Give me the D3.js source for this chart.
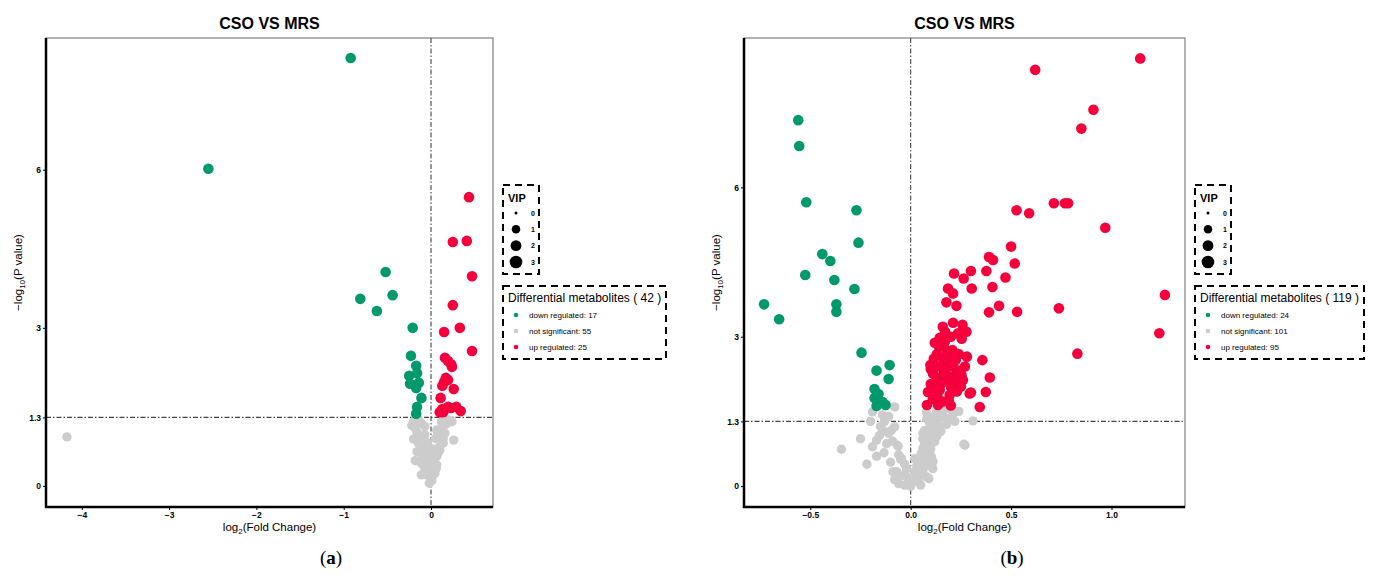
<!DOCTYPE html>
<meta charset="utf-8">
<script src="https://d3js.org/d3.v7.min.js"></script>

<style type="text/css">
body { margin: 0; background: #fff; }
svg { display: block; font-family: "Liberation Sans", Arial, sans-serif; }

.axis path { display: none; }
.axis line { stroke: #000; stroke-width: 1px; }
.axis text { font-size: 8.5px; font-weight: bold; fill: #000; }

.thresh { stroke: #444; stroke-width: 1.1px; stroke-dasharray: 5 2 1.5 2; fill: none; }
.legendBox { fill: none; stroke: #000; stroke-width: 2px; stroke-dasharray: 7 5; }
</style>

<body>
</body>

<script>

// ---- data, [log2 FC, -log10 p] ----

// panel (a)
var leftDown = [
  [-0.92, 8.12], [-2.55, 6.02], [-0.52, 4.06], [-0.81, 3.55], [-0.44, 3.62],
  [-0.62, 3.32], [-0.21, 3.00], [-0.23, 2.47], [-0.17, 2.28], [-0.16, 2.14],
  [-0.25, 2.09], [-0.14, 1.96], [-0.24, 1.94], [-0.17, 1.86], [-0.11, 1.67],
  [-0.16, 1.50], [-0.17, 1.37]
];
var leftUp = [
  [0.435, 5.48], [0.25, 4.63], [0.41, 4.65], [0.47, 3.98], [0.25, 3.43],
  [0.15, 2.92], [0.33, 3.00], [0.47, 2.56], [0.16, 2.43], [0.195, 2.37],
  [0.23, 2.31], [0.24, 2.26], [0.195, 2.01], [0.15, 1.97], [0.13, 1.90],
  [0.26, 1.84], [0.11, 1.67], [0.13, 1.46], [0.195, 1.50], [0.29, 1.50],
  [0.34, 1.42], [0.14, 1.40], [0.10, 1.40], [0.23, 1.48], [0.17, 2.05]
];
var leftNs = [
  [-4.17, 0.93],
  [-0.20, 1.22], [-0.11, 1.19], [-0.07, 1.13], [-0.18, 1.09], [0.12, 1.22],
  [0.16, 1.16], [0.24, 1.22], [0.065, 1.06], [-0.07, 0.97], [-0.20, 0.89],
  [0.10, 0.97], [0.14, 0.81], [0.26, 0.87], [-0.145, 0.81], [-0.09, 0.75],
  [-0.16, 0.65], [-0.05, 0.62], [-0.18, 0.48], [-0.11, 0.43], [-0.01, 0.40],
  [-0.07, 0.30], [0.065, 0.56], [0.10, 0.68], [0.03, 0.30], [-0.05, 0.21],
  [0.045, 0.24], [-0.11, 0.21], [0.01, 0.10], [0.065, 0.40], [0.05, 0.90],
  [0.08, 1.00], [0.02, 0.70], [-0.03, 0.50], [0.00, 0.15], [-0.02, 0.05],
  [0.12, 1.10], [0.20, 1.25], [-0.22, 1.15], [-0.14, 1.25], [0.04, 0.45],
  [0.08, 0.62], [-0.10, 0.55], [0.16, 1.00], [-0.04, 0.82], [0.06, 0.33],
  [-0.08, 0.38], [0.02, 0.20], [0.18, 1.18], [-0.16, 1.02], [0.10, 0.75],
  [-0.06, 0.66], [0.03, 0.58], [-0.12, 0.92], [0.14, 0.90]
];

// panel (b)
var rightDown = [
  [-0.56, 7.35], [-0.555, 6.83], [-0.52, 5.70], [-0.27, 5.54], [-0.26, 4.89],
  [-0.44, 4.66], [-0.40, 4.52], [-0.525, 4.24], [-0.38, 4.14], [-0.28, 3.96],
  [-0.73, 3.65], [-0.37, 3.65], [-0.37, 3.50], [-0.655, 3.35], [-0.245, 2.68],
  [-0.105, 2.43], [-0.17, 2.32], [-0.11, 2.15], [-0.18, 1.95], [-0.18, 1.77],
  [-0.14, 1.69], [-0.17, 1.61], [-0.125, 1.63], [-0.16, 1.85]
];
var rightUp = [
  [1.143, 8.59], [0.62, 8.36], [0.91, 7.56], [0.85, 7.18], [0.527, 5.54],
  [0.59, 5.48], [0.713, 5.68], [0.768, 5.68], [0.784, 5.68], [0.969, 5.19],
  [0.50, 4.81], [0.39, 4.60], [0.41, 4.54], [0.518, 4.47], [0.377, 4.32],
  [0.30, 4.32], [0.216, 4.27], [0.264, 4.17], [0.472, 4.19], [0.304, 3.97],
  [0.407, 4.00], [0.186, 3.97], [0.211, 3.87], [0.178, 3.69], [0.228, 3.62],
  [0.44, 3.62], [0.39, 3.49], [0.53, 3.50], [0.738, 3.57], [1.266, 3.84],
  [1.238, 3.07], [0.83, 2.66], [0.211, 3.28],
  [0.258, 3.24], [0.171, 3.10], [0.278, 3.10], [0.236, 3.07], [0.145, 2.98],
  [0.254, 2.96], [0.14, 2.81], [0.178, 2.73], [0.208, 2.73], [0.115, 2.56],
  [0.161, 2.58], [0.224, 2.53], [0.357, 2.53], [0.098, 2.43], [0.145, 2.40],
  [0.191, 2.40], [0.228, 2.33], [0.111, 2.26], [0.161, 2.23], [0.253, 2.23],
  [0.244, 2.26], [0.394, 2.18], [0.128, 2.13], [0.186, 2.13], [0.236, 2.09],
  [0.26, 2.13], [0.12, 1.96], [0.086, 1.89], [0.145, 1.93], [0.194, 1.83],
  [0.228, 1.99], [0.294, 1.86], [0.30, 1.88], [0.374, 1.89], [0.133, 1.79],
  [0.136, 1.63], [0.081, 1.63], [0.344, 1.59], [0.17, 2.90],
  [0.20, 3.00], [0.19, 2.60], [0.13, 2.65], [0.24, 2.65], [0.21, 2.48],
  [0.10, 2.35], [0.17, 2.30], [0.21, 2.20], [0.15, 2.05], [0.20, 2.00],
  [0.10, 2.05], [0.25, 2.00], [0.16, 1.70], [0.11, 1.75], [0.19, 1.72],
  [0.23, 1.90], [0.27, 2.40], [0.12, 2.88], [0.16, 3.20], [0.20, 1.62],
  [0.28, 2.60], [0.165, 2.50]
];
var rightNs = [
  [-0.08, 1.59], [-0.19, 1.49], [-0.14, 1.43], [-0.11, 1.40], [0.078, 1.49],
  [0.186, 1.56], [0.211, 1.45], [0.161, 1.39], [0.111, 1.39], [0.095, 1.26],
  [0.178, 1.24], [0.31, 1.31], [-0.08, 1.19], [-0.155, 1.02], [-0.11, 1.06],
  [-0.17, 0.92], [-0.063, 0.80], [-0.19, 0.79], [-0.133, 0.67], [-0.345, 0.74],
  [-0.218, 0.44], [-0.05, 0.54], [-0.03, 0.44], [-0.07, 0.29], [-0.08, 0.13],
  [-0.04, 0.22], [-0.005, 0.07], [0.036, 0.19], [0.061, 0.32], [0.086, 0.46],
  [0.053, 0.66], [0.095, 0.69], [0.07, 0.86], [0.111, 1.06], [0.061, 1.06],
  [0.12, 0.89], [0.27, 0.82], [0.111, 0.49], [0.012, 0.12], [0.078, 0.19],
  [0.045, 0.35], [0.07, 0.56], [-0.138, 1.12], [-0.096, 1.12], [-0.066, 0.82],
  [-0.046, 0.56], [-0.088, 0.29], [-0.063, 0.19], [-0.021, 0.19], [0.045, 0.49],
  [0.128, 1.49], [0.07, 1.12], [0.095, 0.92], [0.061, 0.76], [0.053, 0.32],
  [0.028, 0.19], [0.103, 0.59], [0.086, 0.42], [0.265, 0.84], [0.08, 1.35],
  [0.10, 1.20], [0.13, 1.30], [0.15, 1.45], [0.20, 1.38], [0.24, 1.50],
  [0.22, 1.30], [0.09, 1.02], [0.13, 1.00], [0.08, 0.80], [0.10, 0.75],
  [0.06, 0.95], [0.085, 0.62], [0.065, 0.50], [0.11, 0.35], [0.04, 0.08],
  [0.02, 0.28], [0.06, 0.24], [0.09, 0.15], [0.03, 0.40], [0.05, 0.02],
  [0.10, 0.54], [0.07, 0.70], [0.12, 1.15], [0.14, 1.20], [0.16, 1.50],
  [-0.02, 0.35], [-0.06, 0.63], [-0.09, 0.90], [-0.12, 0.85], [-0.15, 1.20],
  [-0.20, 1.30], [-0.03, 0.02], [-0.06, 0.05], [-0.10, 0.48], [-0.17, 0.60],
  [-0.25, 0.95], [-0.13, 1.30], [0.00, 0.00], [0.02, 0.55], [-0.01, 0.12],
  [0.15, 1.10]
];

// ticks and labels
var yTicks = [0, 1.3, 3, 6];
var leftXTicks = [-4, -3, -2, -1, 0];
var rightXTicks = [-0.5, 0, 0.5, 1.0];
var vipLevels = [0, 1, 2, 3];
var groupNames = ["down regulated", "not significant", "up regulated"];
var leftCounts = [17, 55, 25];
var rightCounts = [24, 101, 95];
var colors = ["#00996B", "#CCCCCC", "#F5003C"];

var fullWidth = 1374, fullHeight = 576;

var svg = d3.select("body").append("svg")
  .attr("width", fullWidth)
  .attr("height", fullHeight);

var panels = [
  { down: leftDown, ns: leftNs, up: leftUp, counts: leftCounts, total: 42,
    xDomain: [-4.41, 0.71], yDomain: [-0.4, 8.5], xTicks: leftXTicks,
    xFormat: d3.format("d"),
    left: 46, right: 493, legendX: 503, legendW: 163, caption: "a", captionX: 331 },
  { down: rightDown, ns: rightNs, up: rightUp, counts: rightCounts, total: 119,
    xDomain: [-0.83, 1.366], yDomain: [-0.42, 9.0], xTicks: rightXTicks,
    xFormat: d3.format(".1f"),
    left: 744, right: 1185, legendX: 1195, legendW: 169, caption: "b", captionX: 1012 }
];

// plot box top / bottom (named so they don't clash with window.top)
var plotTop = 38, plotBottom = 507;

var vipScale = d3.scaleSqrt().domain([0, 3]).range([1.5, 6.3]);

panels.forEach(function(p) {
  var g = svg.append("g");

  var x = d3.scaleLinear().domain(p.xDomain).range([p.left, p.right]);
  var y = d3.scaleLinear().domain(p.yDomain).range([plotBottom, plotTop]);

  // thin frame on top / right
  g.append("rect")
    .attr("x", p.left).attr("y", plotTop)
    .attr("width", p.right - p.left).attr("height", plotBottom - plotTop)
    .attr("fill", "none").attr("stroke", "#666").attr("stroke-width", 1);

  // threshold lines
  g.append("line").attr("class", "thresh")
    .attr("x1", p.left).attr("x2", p.right)
    .attr("y1", y(1.3)).attr("y2", y(1.3));
  g.append("line").attr("class", "thresh")
    .attr("x1", x(0)).attr("x2", x(0))
    .attr("y1", plotTop).attr("y2", plotBottom);

  // points: grey first, then down, then up
  var layers = [
    { data: p.ns, color: colors[1], r: 4.7 },
    { data: p.down, color: colors[0], r: 5.3 },
    { data: p.up, color: colors[2], r: 5.3 }
  ];
  layers.forEach(function(l) {
    g.append("g").selectAll("circle")
      .data(l.data).enter().append("circle")
      .attr("cx", function(d) { return x(d[0]); })
      .attr("cy", function(d) { return y(d[1]); })
      .attr("r", l.r)
      .attr("fill", l.color);
  });

  // axes
  g.append("g")
    .attr("class", "axis")
    .attr("transform", "translate(0," + plotBottom + ")")
    .call(d3.axisBottom(x).tickValues(p.xTicks).tickFormat(p.xFormat).tickSize(3).tickPadding(2));

  g.append("g")
    .attr("class", "axis")
    .attr("transform", "translate(" + p.left + ",0)")
    .call(d3.axisLeft(y).tickValues(yTicks).tickFormat(function(d) { return d; }).tickSize(3).tickPadding(2));

  // thick left and bottom axis lines
  g.append("line")
    .attr("x1", p.left).attr("x2", p.left)
    .attr("y1", plotTop).attr("y2", plotBottom + 1)
    .attr("stroke", "#000").attr("stroke-width", 2.5);
  g.append("line")
    .attr("x1", p.left - 1).attr("x2", p.right)
    .attr("y1", plotBottom).attr("y2", plotBottom)
    .attr("stroke", "#000").attr("stroke-width", 2.5);

  // title
  var cx = (p.left + p.right) / 2;
  g.append("text")
    .attr("x", cx).attr("y", 29)
    .attr("text-anchor", "middle")
    .style("font-size", "16px").style("font-weight", "bold")
    .text("CSO VS MRS");

  // x axis title
  var xt = g.append("text")
    .attr("x", cx).attr("y", 531)
    .attr("text-anchor", "middle")
    .style("font-size", "11.5px");
  xt.append("tspan").text("log");
  xt.append("tspan").attr("dy", 3).style("font-size", "8px").text("2");
  xt.append("tspan").attr("dy", -3).text("(Fold Change)");

  // y axis title
  var yt = g.append("text")
    .attr("transform", "translate(" + (p.left - 24) + "," + ((plotTop + plotBottom) / 2) + ") rotate(-90)")
    .attr("text-anchor", "middle")
    .style("font-size", "11.5px");
  yt.append("tspan").text("\u2212log");
  yt.append("tspan").attr("dy", 3).style("font-size", "8px").text("10");
  yt.append("tspan").attr("dy", -3).text("(P value)");

  // VIP legend
  var lx = p.legendX;
  g.append("rect").attr("class", "legendBox")
    .attr("x", lx).attr("y", 185).attr("width", 36).attr("height", 89);
  g.append("text")
    .attr("x", lx + 5).attr("y", 202)
    .style("font-size", "11px").style("font-weight", "bold")
    .text("VIP");
  var vipY = d3.scalePoint().domain(vipLevels).range([213, 262]);
  vipLevels.forEach(function(v) {
    g.append("circle")
      .attr("cx", lx + 13).attr("cy", vipY(v))
      .attr("r", vipScale(v)).attr("fill", "#000");
    g.append("text")
      .attr("x", lx + 28).attr("y", vipY(v) + 2.5)
      .style("font-size", "7px").style("font-weight", "bold")
      .text(v);
  });

  // group legend
  g.append("rect").attr("class", "legendBox")
    .attr("x", lx).attr("y", 286).attr("width", p.legendW).attr("height", 73);
  g.append("text")
    .attr("x", lx + 5).attr("y", 302)
    .style("font-size", "12px")
    .text("Differential metabolites ( " + p.total + " )");
  var rowY = d3.scalePoint().domain(groupNames).range([315, 347]);
  groupNames.forEach(function(name, i) {
    g.append("circle")
      .attr("cx", lx + 13).attr("cy", rowY(name))
      .attr("r", 2.3).attr("fill", colors[i]);
    g.append("text")
      .attr("x", lx + 26).attr("y", rowY(name) + 2.8)
      .style("font-size", "8px")
      .text(name + ": " + p.counts[i]);
  });

  // caption
  var cap = svg.append("text")
    .attr("x", p.captionX).attr("y", 564)
    .attr("text-anchor", "middle")
    .style("font-family", "'Liberation Serif', 'DejaVu Serif', serif")
    .style("font-size", "19px");
  cap.append("tspan").text("(");
  cap.append("tspan").style("font-weight", "bold").text(p.caption);
  cap.append("tspan").text(")");
});

</script>
